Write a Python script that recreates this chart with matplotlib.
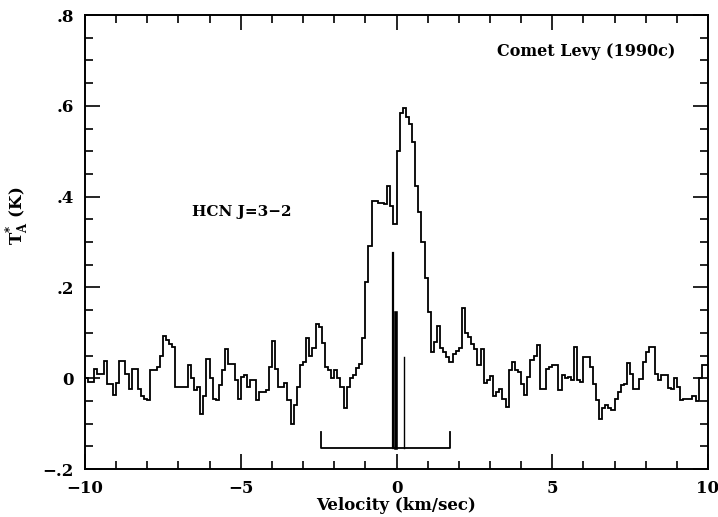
import numpy as np
import matplotlib
matplotlib.use("Agg")
import matplotlib.pyplot as plt
from matplotlib.ticker import MultipleLocator, FixedLocator, FixedFormatter

# Spectrum: 200 channels of 0.1 km/s from -10 to +10 km/s
vel_start = -10.0
chan_width = 0.1
ta_values = [
    0.0, -0.008, -0.008, 0.021, 0.01, 0.01, 0.038, -0.012, -0.012, -0.037,
    -0.01, 0.038, 0.038, 0.01, -0.023, 0.021, 0.021, -0.023, -0.04, -0.045,
    -0.047, 0.019, 0.019, 0.025, 0.05, 0.092, 0.085, 0.075, 0.069, -0.019,
    -0.019, -0.019, -0.019, 0.03, 0.0, -0.026, -0.02, -0.078, -0.04, 0.043,
    0.0, -0.045, -0.048, -0.015, 0.018, 0.065, 0.032, 0.032, -0.005, -0.045,
    0.003, 0.006, -0.02, -0.005, -0.005, -0.048, -0.03, -0.03, -0.026, 0.025,
    0.083, 0.021, -0.02, -0.02, -0.01, -0.048, -0.1, -0.06, -0.019, 0.028,
    0.035, 0.088, 0.05, 0.066, 0.12, 0.113, 0.077, 0.025, 0.018, 0.0,
    0.018, 0.0, -0.019, -0.066, -0.019, 0.0, 0.007, 0.023, 0.032, 0.088,
    0.212, 0.292, 0.39, 0.39, 0.385, 0.385, 0.384, 0.424, 0.38, 0.34,
    0.50, 0.585, 0.596, 0.575, 0.56, 0.52, 0.424, 0.366, 0.30, 0.22,
    0.146, 0.058, 0.08, 0.116, 0.067, 0.058, 0.047, 0.036, 0.054, 0.061,
    0.067, 0.154, 0.1, 0.091, 0.076, 0.065, 0.03, 0.065, -0.011, -0.004,
    0.004, -0.04, -0.03, -0.023, -0.045, -0.063, 0.018, 0.036, 0.018, 0.014,
    -0.012, -0.037, 0.003, 0.04, 0.05, 0.073, -0.023, -0.023, 0.021, 0.025,
    0.028, 0.028, -0.026, 0.006, 0.0, 0.003, -0.004, 0.069, -0.004, -0.008,
    0.047, 0.047, 0.025, -0.012, -0.048, -0.09, -0.066, -0.06, -0.065, -0.07,
    -0.045, -0.03, -0.016, -0.012, 0.033, 0.01, -0.024, -0.024, -0.002, 0.036,
    0.058, 0.069, 0.069, 0.01, -0.004, 0.007, 0.007, -0.022, -0.024, 0.0,
    -0.02, -0.048, -0.045, -0.045, -0.045, -0.04, -0.05, 0.0, 0.029, 0.029,
]

# Hyperfine component markers
hf_bracket_left = -2.42
hf_bracket_right = 1.73
hf_base = -0.153
hf_end_tick_top = -0.118
hf_positions = [-0.10, -0.03, 0.24]
hf_tops = [0.275, 0.143, 0.047]
hf_widths = [1.6, 2.6, 1.0]

xtick_vals = [-10, -5, 0, 5, 10]
xtick_labels = ["\u221210", "\u22125", "0", "5", "10"]
ytick_vals = [-0.2, 0, 0.2, 0.4, 0.6, 0.8]
ytick_labels = ["\u2212.2", "0", ".2", ".4", ".6", ".8"]

FONT = dict(family="DejaVu Serif", weight="bold")

fig = plt.figure(figsize=(7.18, 5.17), dpi=100)
ax = fig.add_axes([85/718, 1-469/517, 623/718, 454/517])

edges = vel_start + chan_width * np.arange(len(ta_values) + 1)
ax.stairs(ta_values, edges, baseline=None, color="black", linewidth=1.3)

# hyperfine bracket
ax.plot([hf_bracket_left, hf_bracket_left, hf_bracket_right, hf_bracket_right],
        [hf_end_tick_top, hf_base, hf_base, hf_end_tick_top],
        color="black", linewidth=1.3)
for p, t, w in zip(hf_positions, hf_tops, hf_widths):
    ax.plot([p, p], [hf_base, t], color="black", linewidth=w)

ax.set_xlim(-10, 10)
ax.set_ylim(-0.2, 0.8)

ax.xaxis.set_major_locator(FixedLocator(xtick_vals))
ax.xaxis.set_major_formatter(FixedFormatter(xtick_labels))
ax.xaxis.set_minor_locator(MultipleLocator(1))
ax.yaxis.set_major_locator(FixedLocator(ytick_vals))
ax.yaxis.set_major_formatter(FixedFormatter(ytick_labels))
ax.yaxis.set_minor_locator(MultipleLocator(0.05))

ax.tick_params(which="both", direction="in", top=True, right=True, width=1.2)
ax.tick_params(which="major", length=11)
ax.tick_params(which="minor", length=6)
ax.tick_params(axis="y", pad=8)
ax.tick_params(axis="x", pad=8)
for lab in ax.get_xticklabels() + ax.get_yticklabels():
    lab.set_fontfamily("DejaVu Serif")
    lab.set_fontweight("bold")
    lab.set_fontsize(12)
for s in ax.spines.values():
    s.set_linewidth(1.4)

ax.set_xlabel("Velocity (km/sec)", fontsize=12, labelpad=0, **FONT)
fig.text(17/718, 1-216/517, r"T$_\mathregular{A}^{\mathregular{*}}$ (K)", rotation=90,
         ha="center", va="center", fontsize=12, **FONT)

ax.text(586/718, 1-52/517, "Comet Levy (1990c)", transform=fig.transFigure,
        ha="center", va="center", fontsize=11.5, **FONT)
ax.text(242/718, 1-212/517, "HCN J=3\u22122", transform=fig.transFigure,
        ha="center", va="center", fontsize=11, **FONT)

fig.savefig("out.png", dpi=100)
